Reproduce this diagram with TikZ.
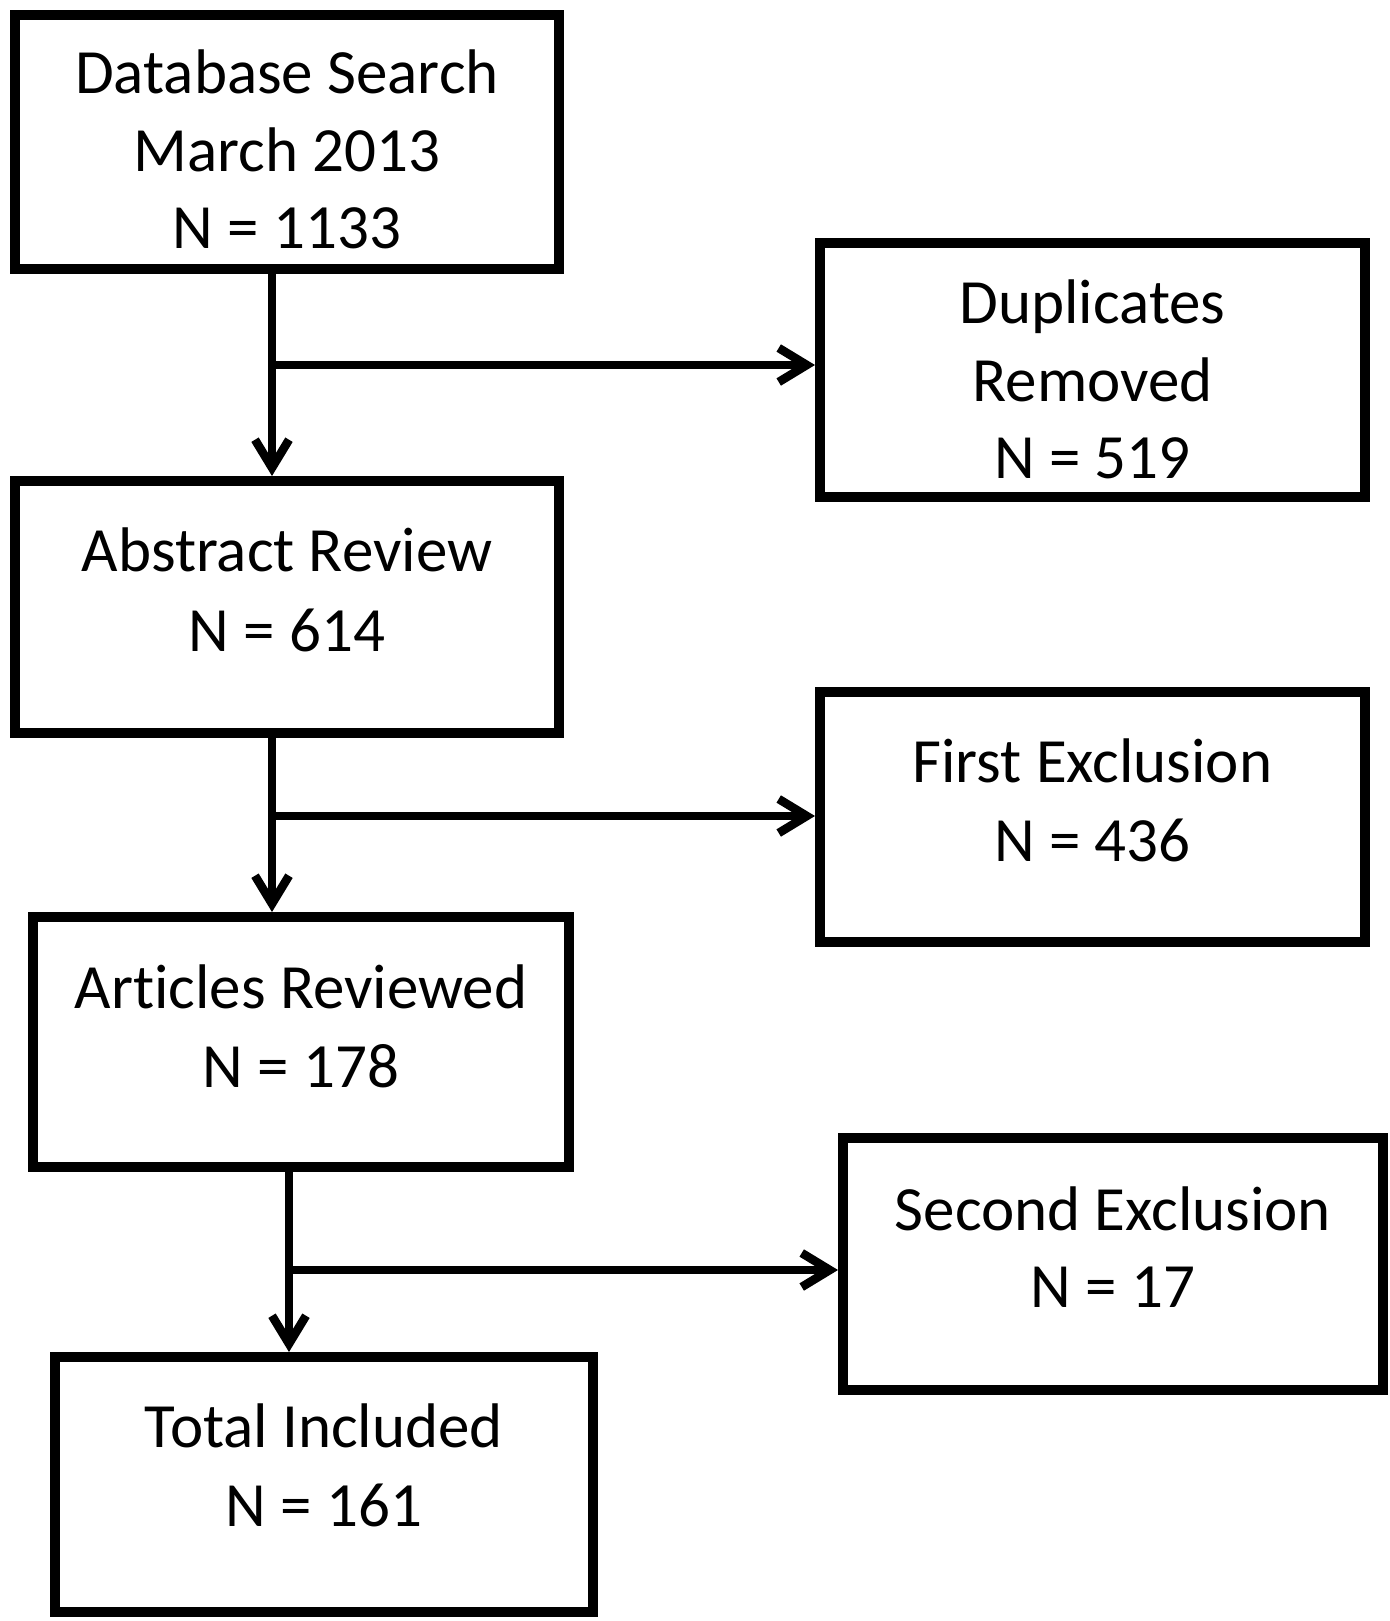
\documentclass[tikz,border=0pt]{standalone}
\usepackage{fontspec}
\setmainfont[Ligatures={NoCommon}]{Carlito}
\usetikzlibrary{arrows.meta}
\begin{document}
\begin{tikzpicture}[x=0.5pt,y=-0.5pt,
  box/.style={draw=black,line width=5pt,inner sep=0pt},
  txt/.style={anchor=base,inner sep=0pt,font=\fontsize{31.5pt}{38pt}\selectfont},
  arr/.style={line width=4.3pt,-{Straight Barb[length=14pt,width=17pt,line width=4.3pt]}}]
\useasboundingbox (0,0) rectangle (1389,1621);
\fill[white] (0,0) rectangle (1389,1621);
% boxes
\node[box,minimum width=272pt,minimum height=127pt] (b1) at (287,142) {};
\node[box,minimum width=272.5pt,minimum height=126.75pt] (b2) at (1092.5,370.25) {};
\node[box,minimum width=272pt,minimum height=126pt] (b3) at (287,607) {};
\node[box,minimum width=272.5pt,minimum height=125pt] (b4) at (1092.5,817) {};
\node[box,minimum width=268pt,minimum height=125pt] (b5) at (301,1042) {};
\node[box,minimum width=270pt,minimum height=126pt] (b6) at (1113,1264) {};
\node[box,minimum width=269pt,minimum height=127.5pt] (b7) at (324,1484.5) {};
% texts
\node[txt] (t1a) at (287,94) {Database Search};
\node[txt] (t1b) at (287,172) {March 2013};
\node[txt] (t1c) at (287,249) {N = 1133};
\node[txt] (t2a) at (1092.5,323.5) {Duplicates};
\node[txt] (t2b) at (1092.5,401) {Removed};
\node[txt] (t2c) at (1092.5,478.5) {N = 519};
\node[txt] (t3a) at (287,571.5) {Abstract Review};
\node[txt] (t3b) at (287,651) {N = 614};
\node[txt] (t4a) at (1092.5,782) {First Exclusion};
\node[txt] (t4b) at (1092.5,861) {N = 436};
\node[txt] (t5a) at (301,1008) {Articles Reviewed};
\node[txt] (t5b) at (301,1087) {N = 178};
\node[txt] (t6a) at (1113,1230) {Second Exclusion};
\node[txt] (t6b) at (1113,1307) {N = 17};
\node[txt] (t7a) at (324,1447) {Total Included};
\node[txt] (t7b) at (324,1526.5) {N = 161};
% junctions
\coordinate (j1) at (272,365);
\coordinate (j2) at (272,816);
\coordinate (j3) at (289,1270);
% connectors
\draw[arr] (j1 |- b1.south) -- (j1 |- b3.north);
\draw[arr] (j1) -- (j1 -| b2.west);
\draw[arr] (j2 |- b3.south) -- (j2 |- b5.north);
\draw[arr] (j2) -- (j2 -| b4.west);
\draw[arr] (j3 |- b5.south) -- (j3 |- b7.north);
\draw[arr] (j3) -- (j3 -| b6.west);
\end{tikzpicture}
\end{document}
